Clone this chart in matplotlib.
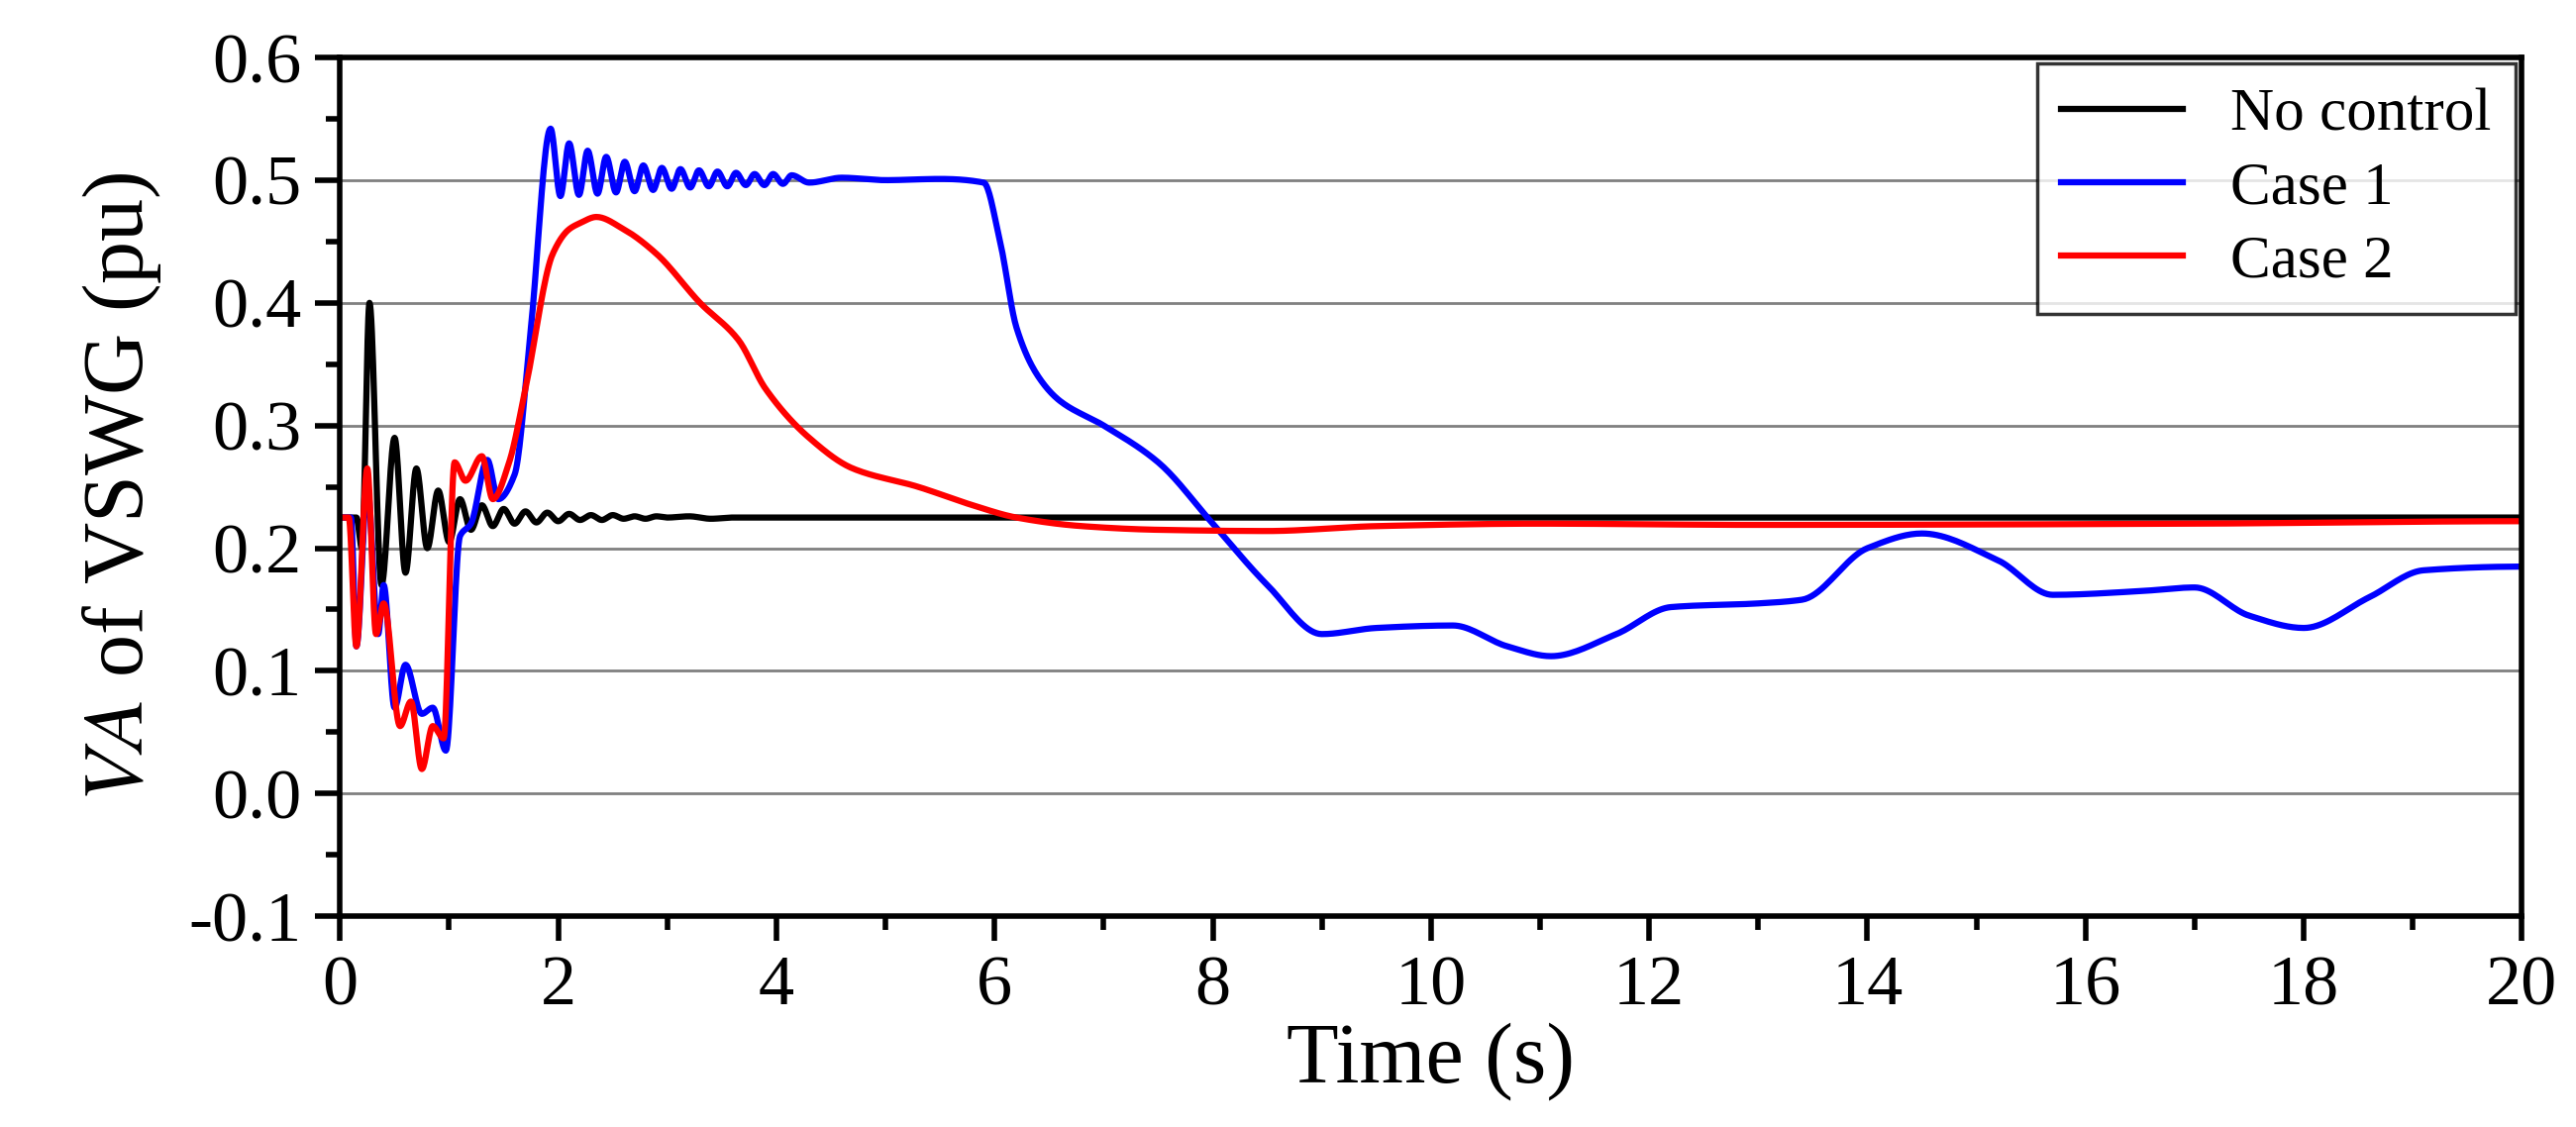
import numpy as np
import matplotlib.pyplot as plt
from matplotlib.ticker import MultipleLocator

plt.rcParams['font.family'] = ['Liberation Serif', 'DejaVu Serif']
plt.rcParams['mathtext.fontset'] = 'stix'

# No control
t_nc = [0, 0.15, 0.2, 0.27, 0.38, 0.5, 0.6, 0.7, 0.8, 0.9, 1.0, 1.1, 1.2, 1.3, 1.4, 1.5, 1.6,
        1.7, 1.8, 1.9, 2.0, 2.1, 2.2, 2.3, 2.4, 2.5, 2.6, 2.7, 2.8, 2.9, 3.0, 3.2, 3.4, 3.6, 4.0, 20]
v_nc = [0.225, 0.225, 0.2, 0.40, 0.17, 0.29, 0.18, 0.265, 0.2, 0.247, 0.205, 0.24, 0.215, 0.235,
        0.218, 0.232, 0.22, 0.23, 0.221, 0.229, 0.222, 0.228, 0.223, 0.227, 0.223, 0.227, 0.224,
        0.226, 0.224, 0.226, 0.225, 0.226, 0.224, 0.225, 0.225, 0.225]

# Case 1
t_c1 = [0, 0.1, 0.15, 0.25, 0.35, 0.4, 0.5, 0.6, 0.75, 0.85, 0.97, 1.1, 1.2, 1.35, 1.45, 1.6,
        1.75, 1.93, 2.02, 2.1, 2.19, 2.27, 2.36, 2.44, 2.53, 2.61, 2.70, 2.78, 2.87, 2.95, 3.04,
        3.12, 3.21, 3.29, 3.38, 3.46, 3.55, 3.63, 3.72, 3.80, 3.89, 3.97, 4.06, 4.14, 4.3, 4.6,
        5.0, 5.5, 5.9, 6.05, 6.2, 6.4, 6.6, 7.0, 7.5, 8.0, 8.5, 9.0, 9.5, 10.2, 10.7, 11.1, 11.7,
        12.2, 13.0, 13.4, 14.0, 14.5, 15.2, 15.7, 16.5, 17.0, 17.5, 18.0, 18.6, 19.1, 20.0]
v_c1 = [0.225, 0.225, 0.12, 0.25, 0.13, 0.17, 0.07, 0.105, 0.065, 0.07, 0.035, 0.21, 0.22, 0.272,
        0.24, 0.26, 0.38, 0.542, 0.487, 0.53, 0.488, 0.524, 0.489, 0.519, 0.49, 0.515, 0.491,
        0.512, 0.492, 0.51, 0.493, 0.509, 0.494, 0.508, 0.495, 0.507, 0.495, 0.506, 0.496,
        0.505, 0.496, 0.505, 0.497, 0.504, 0.498, 0.502, 0.5, 0.501, 0.498, 0.45, 0.38, 0.34,
        0.32, 0.30, 0.27, 0.22, 0.17, 0.13, 0.135, 0.137, 0.12, 0.112, 0.13, 0.152, 0.155,
        0.158, 0.2, 0.212, 0.19, 0.162, 0.165, 0.168, 0.145, 0.135, 0.16, 0.182, 0.185]

# Case 2
t_c2 = [0, 0.08, 0.15, 0.25, 0.33, 0.4, 0.55, 0.65, 0.75, 0.85, 0.95, 1.05, 1.15, 1.3, 1.4, 1.55,
        1.7, 1.95, 2.1, 2.2, 2.35, 2.6, 2.9, 3.3, 3.65, 3.9, 4.3, 4.7, 5.3, 5.8, 6.2, 6.8, 7.5,
        8.5, 9.5, 11, 13, 17, 20]
v_c2 = [0.225, 0.225, 0.12, 0.265, 0.13, 0.155, 0.055, 0.075, 0.02, 0.055, 0.045, 0.27, 0.255,
        0.275, 0.24, 0.27, 0.33, 0.44, 0.46, 0.465, 0.47, 0.46, 0.44, 0.40, 0.37, 0.33, 0.29,
        0.265, 0.25, 0.235, 0.225, 0.218, 0.215, 0.214, 0.218, 0.22, 0.219, 0.22, 0.222]


def smooth(t, v):
    t = np.asarray(t, float)
    v = np.asarray(v, float)
    # monotone cubic (PCHIP-like) through the read points
    h = np.diff(t)
    d = np.diff(v) / h
    m = np.zeros_like(v)
    for i in range(1, len(v) - 1):
        if d[i - 1] * d[i] > 0:
            w1 = 2 * h[i] + h[i - 1]
            w2 = h[i] + 2 * h[i - 1]
            m[i] = (w1 + w2) / (w1 / d[i - 1] + w2 / d[i])
    tt, vv = [], []
    for i in range(len(h)):
        s = np.linspace(0, 1, 20, endpoint=False)
        h00 = 2 * s**3 - 3 * s**2 + 1
        h10 = s**3 - 2 * s**2 + s
        h01 = -2 * s**3 + 3 * s**2
        h11 = s**3 - s**2
        tt.append(t[i] + s * h[i])
        vv.append(h00 * v[i] + h10 * h[i] * m[i] + h01 * v[i + 1] + h11 * h[i] * m[i + 1])
    tt.append([t[-1]])
    vv.append([v[-1]])
    return np.concatenate(tt), np.concatenate(vv)


fig = plt.figure(figsize=(26.01, 11.38), dpi=100)
ax = fig.add_axes([0.132, 0.187, 0.847, 0.762])

for t, v, c, lab in [(t_nc, v_nc, 'black', 'No control'),
                     (t_c1, v_c1, 'blue', 'Case 1'),
                     (t_c2, v_c2, 'red', 'Case 2')]:
    x, y = smooth(t, v)
    ax.plot(x, y, color=c, lw=4.5, label=lab)

ax.set_xlim(0, 20)
ax.set_ylim(-0.1, 0.6)
ax.xaxis.set_major_locator(MultipleLocator(2))
ax.xaxis.set_minor_locator(MultipleLocator(1))
ax.yaxis.set_major_locator(MultipleLocator(0.1))
ax.yaxis.set_minor_locator(MultipleLocator(0.05))
ax.set_yticks(ax.get_yticks())
ax.set_yticklabels([f'{v:.1f}' for v in ax.get_yticks()])
ax.set_ylim(-0.1, 0.6)
ax.grid(True, axis='y', color='gray', lw=2)
ax.tick_params(which='major', length=18, width=4, labelsize=52, direction='out', pad=10)
ax.tick_params(which='minor', length=10, width=4, direction='out')
for s in ax.spines.values():
    s.set_linewidth(4)

ax.set_xlabel('Time (s)', fontsize=62, labelpad=2)
ax.set_ylabel('$\\mathit{VA}$ of VSWG (pu)', fontsize=62, labelpad=18)

leg = ax.legend(loc='upper right', fontsize=44, fancybox=False, edgecolor='black',
                handlelength=2.0, borderpad=0.4, labelspacing=0.3, borderaxespad=0.1)
leg.get_frame().set_linewidth(2.5)

fig.savefig('out.png', dpi=100)
